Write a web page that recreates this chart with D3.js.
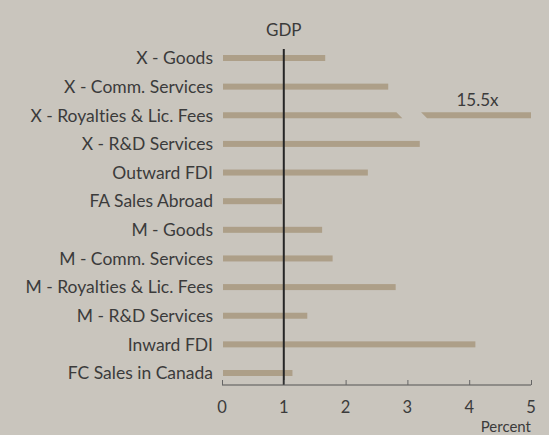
<!DOCTYPE html>
<html>
<head>
<meta charset="utf-8">
<script src="https://cdn.jsdelivr.net/npm/d3@7"></script>
<style>
  body { margin: 0; background: #c9c5bd; }
  text { font-family: Lato, "Open Sans", sans-serif; fill: #3b3b3b; font-variant-ligatures: none; }
</style>
</head>
<body>
<div id="graph"></div>
<script>
"use strict";

let width = 549,
    height = 435;

// categories, top to bottom
const categories = [
    "X - Goods",
    "X - Comm. Services",
    "X - Royalties & Lic. Fees",
    "X - R&D Services",
    "Outward FDI",
    "FA Sales Abroad",
    "M - Goods",
    "M - Comm. Services",
    "M - Royalties & Lic. Fees",
    "M - R&D Services",
    "Inward FDI",
    "FC Sales in Canada"
];

// ratio to GDP growth (percent)
const values = [1.67, 2.69, 15.5, 3.2, 2.36, 0.97, 1.62, 1.79, 2.81, 1.38, 4.1, 1.14];

const xTicks = [0, 1, 2, 3, 4, 5];
const gdpLevel = 1;
// axis break for the out-of-range bar, in axis units
const breakFrom = 2.87,
      breakTo = 3.27;

let svg = d3.select("#graph")
    .append("svg")
    .attr("width", width)
    .attr("height", height);

let x = d3.scaleLinear().domain([0, 5]).range([222, 531]);
let y = d3.scalePoint().domain(categories).range([58, 373]);

const barH = 6;
const barColor = "#ad9f88";

// bars
let bars = svg.append("g");
categories.forEach(function(c, i) {
    let v = values[i];
    let yy = y(c);
    if (v <= 5) {
        bars.append("rect")
            .attr("x", x(0) + 1)
            .attr("y", yy - barH / 2)
            .attr("width", x(v) - x(0) - 1)
            .attr("height", barH)
            .attr("fill", barColor);
    } else {
        // broken bar: slanted ends at the break
        let s = 3;
        bars.append("path")
            .attr("d", "M" + (x(0) + 1) + "," + (yy - barH / 2) +
                " L" + (x(breakFrom) - s) + "," + (yy - barH / 2) +
                " L" + (x(breakFrom) + s) + "," + (yy + barH / 2) +
                " L" + (x(0) + 1) + "," + (yy + barH / 2) + "Z")
            .attr("fill", barColor);
        bars.append("path")
            .attr("d", "M" + (x(breakTo) - s) + "," + (yy - barH / 2) +
                " L" + x(5) + "," + (yy - barH / 2) +
                " L" + x(5) + "," + (yy + barH / 2) +
                " L" + (x(breakTo) + s) + "," + (yy + barH / 2) + "Z")
            .attr("fill", barColor);
        svg.append("text")
            .attr("x", (x(breakTo) + x(5)) / 2)
            .attr("y", yy - 9)
            .attr("text-anchor", "middle")
            .style("font-size", "17px")
            .text(v + "x");
    }
});

// category labels
svg.append("g").selectAll("text")
    .data(categories)
    .enter()
    .append("text")
    .attr("x", 213)
    .attr("y", d => y(d))
    .attr("dy", "0.36em")
    .attr("text-anchor", "end")
    .style("font-size", "17.5px")
    .text(d => d);

// GDP reference line
svg.append("line")
    .attr("x1", x(gdpLevel))
    .attr("x2", x(gdpLevel))
    .attr("y1", 49)
    .attr("y2", 385)
    .attr("stroke", "#262626")
    .attr("stroke-width", 2);

svg.append("text")
    .attr("x", x(gdpLevel))
    .attr("y", 36)
    .attr("text-anchor", "middle")
    .style("font-size", "17px")
    .text("GDP");

// x axis
let axis = svg.append("g")
    .attr("transform", "translate(0,385)")
    .call(d3.axisTop(x).tickValues(xTicks).tickSize(5).tickFormat(""));
axis.select(".domain").attr("stroke", "#555").attr("stroke-width", 1.2).attr("d", "M" + x(0) + ",0H" + x(5));
axis.selectAll(".tick line").attr("stroke", "#666");

svg.append("g").selectAll("text")
    .data(xTicks)
    .enter()
    .append("text")
    .attr("x", d => x(d))
    .attr("y", 413)
    .attr("text-anchor", "middle")
    .style("font-size", "16.5px")
    .text(d => d);

svg.append("text")
    .attr("x", x(5))
    .attr("y", 432)
    .attr("text-anchor", "end")
    .style("font-size", "15px")
    .text("Percent");
</script>
</body>
</html>
